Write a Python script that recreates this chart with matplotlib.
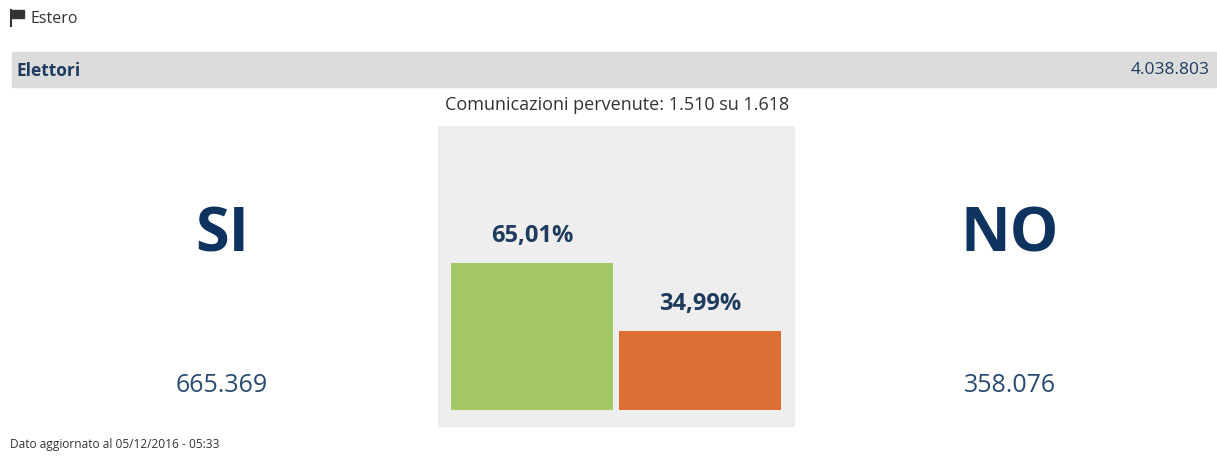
import matplotlib
matplotlib.use("Agg")
import matplotlib.pyplot as plt
from matplotlib.patches import Rectangle

plt.rcParams['font.family'] = ['Open Sans', 'DejaVu Sans']

region = "Estero"
elettori = "4.038.803"
comunicazioni = "Comunicazioni pervenute: 1.510 su 1.618"
categories = ["SI", "NO"]
percents = [65.01, 34.99]
pct_labels = ["65,01%", "34,99%"]
votes = ["665.369", "358.076"]
updated = "Dato aggiornato al 05/12/2016 - 05:33"

W, H = 1217, 460
fig = plt.figure(figsize=(W/100, H/100), dpi=100)
bg = fig.add_axes([0, 0, 1, 1])
bg.set_xlim(0, W); bg.set_ylim(H, 0); bg.axis('off')

dark = "#1f3b5e"
navy = "#0f335f"
# flag icon
bg.plot([11, 11], [11, 27], color="#333333", lw=1.5)
bg.add_patch(Rectangle((12, 11), 12, 8, color="#333333"))
bg.text(31, 19, region, fontsize=11.5, color="#333333", va='center')

bg.add_patch(Rectangle((12, 53), W-12, 35, color="#dcdcdc"))
bg.text(17, 70.5, "Elettori", fontsize=12.5, fontweight='bold', color=dark, va='center')
bg.text(1210, 70.5, elettori, fontsize=12.5, color=dark, va='center', ha='right')
bg.text(617, 105, comunicazioni, fontsize=13, color="#333333", va='center', ha='center')

bg.add_patch(Rectangle((438, 127), 356, 300, color="#eeeeee"))

for x, cat, v in zip([222, 1010], categories, votes):
    bg.text(x, 236, cat, fontsize=44, fontweight='bold', color=navy, ha='center', va='center')
    bg.text(x, 386, v, fontsize=18, color="#2a4a70", ha='center', va='center')

bg.text(10, 445, updated, fontsize=8.6, color="#333333", va='center')

# bar axes
ax = fig.add_axes([438/W, 1-427/H, 356/W, 300/H])
ax.patch.set_alpha(0)
scale = 147/65.01
ax.set_ylim(-16/scale, (411-127)/scale)
ax.set_xlim((438-532)/168, (794-532)/168)
ax.axis('off')
colors = ["#a5c867", "#dc6e33"]
ax.bar([0, 1], percents, width=162/168, color=colors)
for i, (p, l) in enumerate(zip(percents, pct_labels)):
    ax.text(i, p + 28/scale, l, fontsize=17, fontweight='bold', color=dark, ha='center', va='center')

fig.savefig("out.png", dpi=100)
